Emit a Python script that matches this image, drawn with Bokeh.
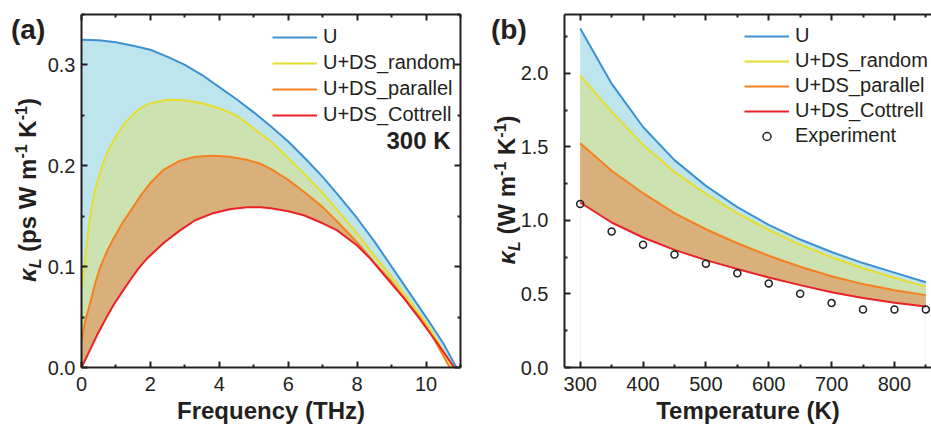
from bokeh.plotting import figure
from bokeh.models import (LinearAxis, FixedTicker, PrintfTickFormatter, Label,
                          Legend, LegendItem, Range1d, Div)
from bokeh.layouts import row
from bokeh.embed import file_html
from bokeh.resources import INLINE

FONT = "Liberation Sans"
AX = "#231F20"
C_U, C_R, C_P, C_C = "#3D91D1", "#E6DE2E", "#F58020", "#E92228"
F_U, F_R, F_P = "#BEE5EE", "#CCE2B0", "#D9B07C"

# ---------------- panel (a): spectral kappa at 300 K ----------------
freq_U = [0, 0.5, 1, 1.5, 2, 2.5, 3, 3.5, 4, 4.5, 5, 5.5, 6, 6.5, 7, 7.5, 8, 8.5,
          9, 9.5, 10, 10.5, 10.88]
kap_U = [0.325, 0.3245, 0.3225, 0.319, 0.315, 0.308, 0.300, 0.290, 0.278, 0.266,
         0.253, 0.239, 0.224, 0.207, 0.189, 0.169, 0.148, 0.125, 0.100, 0.075,
         0.050, 0.024, 0.0]

freq_R = [0, 0.05, 0.1, 0.2, 0.3, 0.4, 0.6, 0.8, 1.0, 1.25, 1.5, 1.75, 2, 2.5, 3,
          3.5, 4, 4.5, 5, 5.5, 6, 6.5, 7, 7.5, 8, 8.5, 9, 9.5, 10, 10.4, 10.77]
kap_R = [0.079, 0.092, 0.104, 0.138, 0.160, 0.177, 0.200, 0.217, 0.229, 0.242,
         0.251, 0.258, 0.262, 0.2655, 0.265, 0.262, 0.257, 0.250, 0.237, 0.224,
         0.208, 0.191, 0.173, 0.153, 0.133, 0.111, 0.090, 0.067, 0.044, 0.022, 0.0]

freq_P = [0, 0.1, 0.26, 0.4, 0.55, 0.75, 0.93, 1.2, 1.42, 1.75, 2, 2.38, 2.86, 3.3,
          3.82, 4.3, 4.79, 5.2, 5.49, 6, 6.5, 7, 7.5, 8, 8.5, 9, 9.5, 9.81, 10.2,
          10.69]
kap_P = [0.026, 0.045, 0.065, 0.084, 0.100, 0.116, 0.128, 0.144, 0.155, 0.172,
         0.183, 0.196, 0.205, 0.209, 0.210, 0.209, 0.206, 0.202, 0.197, 0.186,
         0.173, 0.159, 0.142, 0.124, 0.104, 0.085, 0.063, 0.050, 0.030, 0.0]

freq_C = [0, 0.2, 0.45, 0.7, 0.93, 1.2, 1.42, 1.65, 1.9, 2.4, 2.86, 3.3, 3.82, 4.3,
          4.79, 5.2, 5.49, 6, 6.45, 7, 7.42, 8, 8.38, 9, 9.35, 9.8, 10.31, 10.82]
kap_C = [0.0, 0.014, 0.032, 0.048, 0.062, 0.076, 0.087, 0.098, 0.108, 0.124, 0.136,
         0.146, 0.153, 0.157, 0.159, 0.159, 0.158, 0.155, 0.151, 0.143, 0.136,
         0.121, 0.108, 0.083, 0.069, 0.049, 0.025, 0.0]

# ---------------- panel (b): kappa vs temperature ----------------
temp = [300, 350, 400, 450, 500, 550, 600, 650, 700, 750, 800, 850]
kT_U = [2.304, 1.93, 1.635, 1.41, 1.235, 1.09, 0.97, 0.87, 0.785, 0.71, 0.645, 0.58]
kT_R = [1.984, 1.74, 1.515, 1.33, 1.18, 1.05, 0.935, 0.835, 0.75, 0.675, 0.61, 0.55]
kT_P = [1.524, 1.338, 1.185, 1.05, 0.94, 0.845, 0.76, 0.685, 0.62, 0.567, 0.525, 0.492]
kT_C = [1.122, 0.986, 0.884, 0.80, 0.73, 0.67, 0.612, 0.56, 0.512, 0.472, 0.44, 0.415]
temp_exp = [300, 350, 400, 450, 500, 550, 600, 650, 700, 750, 800, 850]
k_exp = [1.112, 0.925, 0.835, 0.769, 0.705, 0.640, 0.571, 0.501, 0.438, 0.395,
         0.395, 0.395]

names = ["U", "U+DS_random", "U+DS_parallel", "U+DS_Cottrell"]

a_xticks = [0, 2, 4, 6, 8, 10]
a_xminor = [1, 3, 5, 7, 9, 11]
a_yticks = [0.0, 0.1, 0.2, 0.3]
a_yminor = [0.05, 0.15, 0.25, 0.35]
b_xticks = [300, 400, 500, 600, 700, 800]
b_xminor = [350, 450, 550, 650, 750, 850]
b_yticks = [0.0, 0.5, 1.0, 1.5, 2.0]
b_yminor = [0.25, 0.75, 1.25, 1.75, 2.25]

H = 430


def style_axis(ax, major, minor, fmt=None, labels=True, standoff=7):
    ax.ticker = FixedTicker(ticks=major, minor_ticks=minor)
    ax.axis_line_width = 2
    ax.axis_line_color = AX
    ax.major_tick_line_width = 2
    ax.minor_tick_line_width = 2
    ax.major_tick_line_color = AX
    ax.minor_tick_line_color = AX
    ax.major_tick_in = 6
    ax.major_tick_out = 0
    ax.minor_tick_in = 3
    ax.minor_tick_out = 0
    ax.major_label_text_font = FONT
    ax.major_label_text_color = AX
    if fmt:
        ax.formatter = PrintfTickFormatter(format=fmt)
    if labels:
        ax.major_label_text_font_size = "20px"
        ax.major_label_standoff = standoff
    else:
        ax.major_label_overrides = {t: "" for t in major}
        ax.major_label_text_font_size = "0px"
        ax.major_label_standoff = 0


def x_title(ax, text):
    ax.axis_label = text
    ax.axis_label_text_font = FONT
    ax.axis_label_text_font_size = "24px"
    ax.axis_label_text_font_style = "bold"
    ax.axis_label_text_color = AX
    ax.axis_label_standoff = 3


def style_legend(lg, spacing):
    lg.border_line_color = None
    lg.background_fill_alpha = 0
    lg.padding = 0
    lg.margin = 0
    lg.spacing = spacing
    lg.glyph_width = 45
    lg.glyph_height = 20
    lg.label_height = 20
    lg.label_standoff = 6
    lg.label_text_font = FONT
    lg.label_text_font_size = "20px"
    lg.label_text_color = AX


def base_fig(width, xr, yr, left, right):
    p = figure(width=width, height=H, x_range=xr, y_range=yr,
               output_backend="svg", toolbar_location=None,
               min_border_left=left, min_border_right=right,
               min_border_top=14, min_border_bottom=63)
    p.xgrid.visible = False
    p.ygrid.visible = False
    p.outline_line_color = None
    p.background_fill_color = "white"
    p.border_fill_alpha = 0
    p.margin = 0
    return p


def side_div(width, letter, middle, x_lab, x_letter):
    sub = "font-size:16px;line-height:0;vertical-align:-5px"
    sup = "font-size:16px;line-height:0;vertical-align:9px"
    html = (
        f'<div style="position:relative;width:{width}px;height:{H}px;overflow:visible;'
        f"font-family:'{FONT}';color:{AX}\">"
        f'<div style="position:absolute;left:{x_letter}px;top:16px;font-weight:bold;'
        f'font-size:28px;line-height:1;white-space:nowrap">({letter})</div>'
        f'<div style="position:absolute;left:{x_lab}px;top:190px;'
        f'transform:rotate(-90deg) translateX(-50%);transform-origin:0 0;'
        f'white-space:nowrap;font-weight:bold;font-size:24px;line-height:1">'
        f'<i>κ<span style="{sub}">L</span></i>{middle}'
        f'<span style="{sup}">-1</span> K<span style="{sup}">-1</span>)</div>'
        f'</div>')
    return Div(text=html, width=width, height=H, margin=0,
               styles={"overflow": "visible"})


# ---------------- figure (a) ----------------
pa = base_fig(426, Range1d(0, 11), Range1d(0, 0.35), 35, 10)
xa_bottom = pa.xaxis[0]
ya_left = pa.yaxis[0]
pa.varea(x=freq_U, y1=0, y2=kap_U, fill_color=F_U)
pa.varea(x=freq_R, y1=0, y2=kap_R, fill_color=F_R)
pa.varea(x=freq_P, y1=0, y2=kap_P, fill_color=F_P)
pa.varea(x=freq_C, y1=0, y2=kap_C, fill_color="white")
la = [pa.line(freq_U, kap_U, line_width=2, color=C_U),
      pa.line(freq_R, kap_R, line_width=2, color=C_R),
      pa.line(freq_P, kap_P, line_width=2, color=C_P),
      pa.line(freq_C, kap_C, line_width=2, color=C_C)]

style_axis(xa_bottom, a_xticks, a_xminor, standoff=9)
style_axis(ya_left, a_yticks, a_yminor, fmt="%.1f", standoff=6)
x_title(xa_bottom, "Frequency (THz)")
ta = LinearAxis(); style_axis(ta, a_xticks, a_xminor, labels=False)
ra = LinearAxis(); style_axis(ra, a_yticks, a_yminor, labels=False)
pa.add_layout(ta, "above")
pa.add_layout(ra, "right")

leg_a = Legend(items=[LegendItem(label=n, renderers=[r]) for n, r in zip(names, la)],
               location=(191, 241))
style_legend(leg_a, 3)
pa.add_layout(leg_a, "center")

pa.add_layout(Label(x=369, y=214, x_units="screen", y_units="screen", text="300 K",
                    text_align="right", text_font=FONT, text_font_size="24px",
                    text_font_style="bold", text_color=AX))

# ---------------- figure (b) ----------------
pb = base_fig(414, Range1d(275, 859), Range1d(0, 2.4), 44, 0)
xb_bottom = pb.xaxis[0]
yb_left = pb.yaxis[0]
pb.varea(x=temp, y1=0, y2=kT_U, fill_color=F_U)
pb.varea(x=temp, y1=0, y2=kT_R, fill_color=F_R)
pb.varea(x=temp, y1=0, y2=kT_P, fill_color=F_P)
pb.varea(x=temp, y1=0, y2=kT_C, fill_color="white")
lb = [pb.line(temp, kT_U, line_width=2, color=C_U),
      pb.line(temp, kT_R, line_width=2, color=C_R),
      pb.line(temp, kT_P, line_width=2, color=C_P),
      pb.line(temp, kT_C, line_width=2, color=C_C)]
ex = pb.scatter(temp_exp, k_exp, marker="circle", size=7, fill_color=None,
                line_color=AX, line_width=1.5)

style_axis(xb_bottom, b_xticks, b_xminor, standoff=9)
style_axis(yb_left, b_yticks, b_yminor, fmt="%.1f", standoff=16)
x_title(xb_bottom, "Temperature (K)")
tb = LinearAxis(); style_axis(tb, b_xticks, b_xminor, labels=False)
pb.add_layout(tb, "above")

leg_b = Legend(items=[LegendItem(label=n, renderers=[r]) for n, r in zip(names, lb)]
               + [LegendItem(label="Experiment", renderers=[ex])],
               location=(180, 220))
style_legend(leg_b, 2)
pb.add_layout(leg_b, "center")

div_a = side_div(44, "a", " (ps W m", 16, 11)
div_b = side_div(47, "b", " (W m", 25, 21)

layout = row(div_a, pa, div_b, pb, spacing=0)
open("out.html", "w").write(file_html(layout, INLINE))
